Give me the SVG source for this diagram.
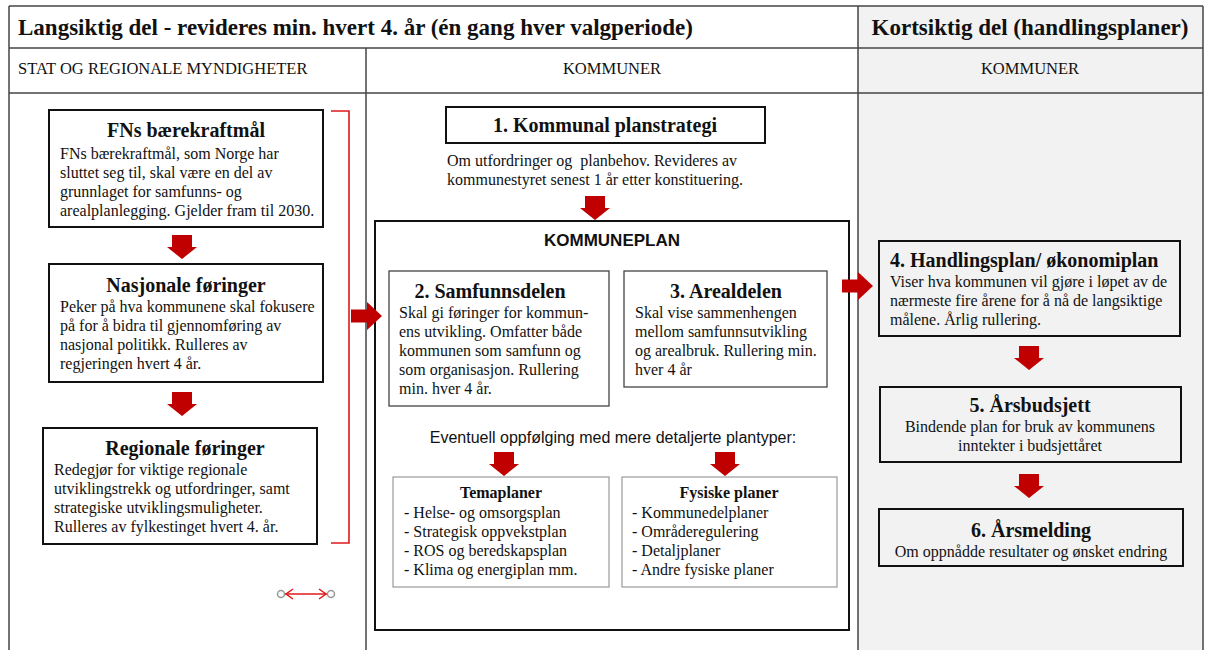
<svg xmlns="http://www.w3.org/2000/svg" width="1207" height="650" viewBox="0 0 1207 650">
<style>
.s{font-family:"Liberation Serif","Times New Roman",serif;fill:#111}
.b{font-weight:bold}
.t20{font-size:20px}
.t16{font-size:16px}
.ss{font-family:"Liberation Sans",Arial,sans-serif;fill:#111}
.grid{stroke:#444;stroke-width:1.5;fill:none}
.box{fill:none;stroke:#111;stroke-width:2}
.box2{fill:none;stroke:#444;stroke-width:1.3}
.box3{fill:none;stroke:#9a9a9a;stroke-width:1.2}
.arr{fill:#c00000}
</style>
<defs>
<path id="down" d="M-10,0 H10 V12 H15 L0,24 L-15,12 H-10 Z"/>
<path id="right" d="M0,-6.5 H16 V-14 L31,0 L16,14 V6.5 H0 Z"/>
</defs>
<rect x="0" y="0" width="1207" height="650" fill="#fff"/>
<rect x="858" y="6" width="345" height="644" fill="#f2f2f2"/>
<g id="table">
<line class="grid" x1="9" y1="6" x2="1203" y2="6"/>
<line class="grid" x1="9" y1="48" x2="1203" y2="48"/>
<line class="grid" x1="9" y1="93" x2="1203" y2="93"/>
<line class="grid" x1="9" y1="6" x2="9" y2="650"/>
<line class="grid" x1="1203" y1="6" x2="1203" y2="650"/>
<line class="grid" x1="366" y1="48" x2="366" y2="650"/>
<line class="grid" x1="858" y1="6" x2="858" y2="650"/>
<text class="s b" x="18" y="35" font-size="23">Langsiktig del - revideres min. hvert 4. år (én gang hver valgperiode)</text>
<text class="s b" x="1030" y="35" font-size="23" text-anchor="middle">Kortsiktig del (handlingsplaner)</text>
<text class="s" x="18" y="74" font-size="16.5">STAT OG REGIONALE MYNDIGHETER</text>
<text class="s" x="612" y="74" font-size="16.5" text-anchor="middle">KOMMUNER</text>
<text class="s" x="1030" y="74" font-size="16.5" text-anchor="middle">KOMMUNER</text>
</g>
<g id="fns">
<rect class="box" x="49" y="110" width="274" height="117"/>
<text class="s b t20" x="186" y="137" text-anchor="middle">FNs bærekraftmål</text>
<text class="s t16" x="60" y="159">FNs bærekraftmål, som Norge har</text>
<text class="s t16" x="60" y="178">sluttet seg til, skal være en del av</text>
<text class="s t16" x="60" y="197">grunnlaget for samfunns- og</text>
<text class="s t16" x="60" y="216">arealplanlegging. Gjelder fram til 2030.</text>
</g>
<g id="nasjonale">
<rect class="box" x="49" y="264" width="274" height="118"/>
<text class="s b t20" x="186" y="292" text-anchor="middle">Nasjonale føringer</text>
<text class="s t16" x="60" y="312">Peker på hva kommunene skal fokusere</text>
<text class="s t16" x="60" y="331">på for å bidra til gjennomføring av</text>
<text class="s t16" x="60" y="350">nasjonal politikk. Rulleres av</text>
<text class="s t16" x="60" y="369">regjeringen hvert 4 år.</text>
</g>
<g id="regionale">
<rect class="box" x="43" y="428" width="274" height="116"/>
<text class="s b t20" x="185" y="455" text-anchor="middle">Regionale føringer</text>
<text class="s t16" x="54" y="475">Redegjør for viktige regionale</text>
<text class="s t16" x="54" y="494">utviklingstrekk og utfordringer, samt</text>
<text class="s t16" x="54" y="513">strategiske utviklingsmuligheter.</text>
<text class="s t16" x="54" y="532">Rulleres av fylkestinget hvert 4. år.</text>
</g>
<g id="planstrategi">
<rect class="box" x="446" y="107" width="319" height="36"/>
<text class="s b t20" x="605" y="132" text-anchor="middle">1. Kommunal planstrategi</text>
<text class="s t16" x="447" y="166">Om utfordringer og&#160; planbehov. Revideres av</text>
<text class="s t16" x="447" y="185">kommunestyret senest 1 år etter konstituering.</text>
</g>
<g id="kommuneplan">
<rect class="box" x="375" y="221" width="474" height="409"/>
<text class="ss b" x="612" y="246" font-size="17" text-anchor="middle">KOMMUNEPLAN</text>
<text class="ss" x="613" y="443" font-size="16" text-anchor="middle">Eventuell oppfølging med mere detaljerte plantyper:</text>
</g>
<g id="samfunnsdelen">
<rect class="box2" x="389" y="271" width="220" height="135"/>
<text class="s b t20" x="490" y="298" text-anchor="middle">2. Samfunnsdelen</text>
<text class="s t16" x="399" y="318">Skal gi føringer for kommun-</text>
<text class="s t16" x="399" y="337">ens utvikling. Omfatter både</text>
<text class="s t16" x="399" y="356">kommunen som samfunn og</text>
<text class="s t16" x="399" y="375">som organisasjon. Rullering</text>
<text class="s t16" x="399" y="394">min. hver 4 år.</text>
</g>
<g id="arealdelen">
<rect class="box2" x="624" y="271" width="203" height="116"/>
<text class="s b t20" x="726" y="298" text-anchor="middle">3. Arealdelen</text>
<text class="s t16" x="635" y="318">Skal vise sammenhengen</text>
<text class="s t16" x="635" y="337">mellom samfunnsutvikling</text>
<text class="s t16" x="635" y="356">og arealbruk. Rullering min.</text>
<text class="s t16" x="635" y="375">hver 4 år</text>
</g>
<g id="temaplaner">
<rect class="box3" x="393" y="477" width="216" height="110"/>
<text class="s b t16" x="501" y="498" text-anchor="middle">Temaplaner</text>
<text class="s t16" x="404" y="518">- Helse- og omsorgsplan</text>
<text class="s t16" x="404" y="537">- Strategisk oppvekstplan</text>
<text class="s t16" x="404" y="556">- ROS og beredskapsplan</text>
<text class="s t16" x="404" y="575">- Klima og energiplan mm.</text>
</g>
<g id="fysiske">
<rect class="box3" x="622" y="477" width="215" height="110"/>
<text class="s b t16" x="729" y="498" text-anchor="middle">Fysiske planer</text>
<text class="s t16" x="632" y="518">- Kommunedelplaner</text>
<text class="s t16" x="632" y="537">- Områderegulering</text>
<text class="s t16" x="632" y="556">- Detaljplaner</text>
<text class="s t16" x="632" y="575">- Andre fysiske planer</text>
</g>
<g id="handlingsplan">
<rect class="box" x="879" y="241" width="301" height="95"/>
<text class="s b t20" x="890" y="267">4. Handlingsplan/ økonomiplan</text>
<text class="s t16" x="890" y="287">Viser hva kommunen vil gjøre i løpet av de</text>
<text class="s t16" x="890" y="306">nærmeste fire årene for å nå de langsiktige</text>
<text class="s t16" x="890" y="325">målene. Årlig rullering.</text>
</g>
<g id="arsbudsjett">
<rect class="box" x="880" y="387" width="301" height="75"/>
<text class="s b t20" x="1030" y="412" text-anchor="middle">5. Årsbudsjett</text>
<text class="s t16" x="1030" y="432" text-anchor="middle">Bindende plan for bruk av kommunens</text>
<text class="s t16" x="1030" y="451" text-anchor="middle">inntekter i budsjettåret</text>
</g>
<g id="arsmelding">
<rect class="box" x="879" y="509" width="304" height="57"/>
<text class="s b t20" x="1031" y="537" text-anchor="middle">6. Årsmelding</text>
<text class="s t16" x="1031" y="557" text-anchor="middle">Om oppnådde resultater og ønsket endring</text>
</g>
<g id="connectors">
<use href="#down" class="arr" transform="translate(182,235)"/>
<use href="#down" class="arr" transform="translate(182,392)"/>
<use href="#down" class="arr" transform="translate(595,196)"/>
<use href="#down" class="arr" transform="translate(504,452)"/>
<use href="#down" class="arr" transform="translate(725,452)"/>
<use href="#down" class="arr" transform="translate(1029,346)"/>
<use href="#down" class="arr" transform="translate(1029,474)"/>
<use href="#right" class="arr" transform="translate(351,316)"/>
<use href="#right" class="arr" transform="translate(842,286)"/>
<polyline points="331,111 349,111 349,543 331,543" fill="none" stroke="#e01818" stroke-width="1.6"/>
<line x1="285" y1="594" x2="327" y2="594" stroke="#e01818" stroke-width="1.5"/>
<polyline points="293,589 286,594 293,599" fill="none" stroke="#e01818" stroke-width="1.5"/>
<polyline points="319,589 326,594 319,599" fill="none" stroke="#e01818" stroke-width="1.5"/>
<circle cx="281" cy="594" r="3.5" fill="#fff" stroke="#999" stroke-width="1.5"/>
<circle cx="331" cy="594" r="3.5" fill="#fff" stroke="#999" stroke-width="1.5"/>
</g>
</svg>
